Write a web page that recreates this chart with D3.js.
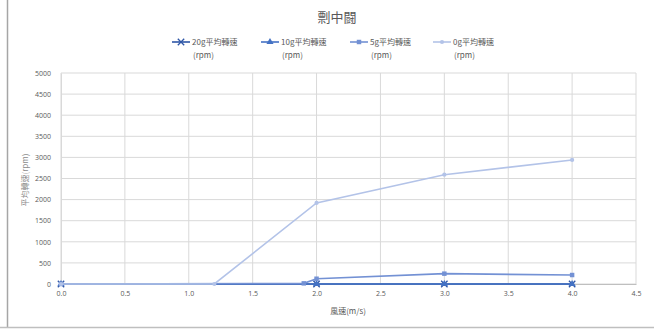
<!DOCTYPE html>
<html><head><meta charset="utf-8">
<script src="https://cdn.jsdelivr.net/npm/d3@7/dist/d3.min.js"></script>
<style>
body{margin:0;background:#fff;}
text{font-family:"Noto Sans CJK TC","Noto Sans",sans-serif;}
</style></head>
<body><svg id="c" width="654" height="331"></svg>
<script>
const title = "剽中闘";
const xTitle = "風速(m/s)";
const yTitle = "平均轉速(rpm)";
const seriesNames = ["20g平均轉速", "10g平均轉速", "5g平均轉速", "0g平均轉速"];
const seriesUnit = "(rpm)";
const x20 = [0, 2, 3, 4];
const y20 = [0, 0, 0, 0];
const x10 = [0, 2, 3, 4];
const y10 = [0, 0, 0, 0];
const x5 = [0, 1.9, 2, 3, 4];
const y5 = [0, 15, 125, 245, 213];
const x0 = [0, 1.2, 2, 3, 4];
const y0 = [0, 0, 1920, 2590, 2940];
const xTicks = [0, 0.5, 1, 1.5, 2, 2.5, 3, 3.5, 4, 4.5];
const yTicks = [0, 500, 1000, 1500, 2000, 2500, 3000, 3500, 4000, 4500, 5000];
const colors = ["#2E56A6", "#4472C4", "#7391D4", "#B3C3E8"];
const markers = ["x", "triangle", "square", "circle"];

const svg = d3.select("#c");
svg.append("line").attr("x1",7.5).attr("x2",7.5).attr("y1",0).attr("y2",327).attr("stroke","#a6a6a6").attr("stroke-width",1.5);
svg.append("line").attr("x1",0).attr("x2",654).attr("y1",327.5).attr("y2",327.5).attr("stroke","#bfbfbf").attr("stroke-width",1.5);

const xs = d3.scaleLinear().domain([0,4.5]).range([61,636]);
const ys = d3.scaleLinear().domain([0,5000]).range([284,73]);

const g = svg.append("g");
g.selectAll(".vg").data(xTicks).join("line").attr("x1",d=>xs(d)).attr("x2",d=>xs(d)).attr("y1",ys(5000)).attr("y2",ys(0)).attr("stroke","#d9d9d9").attr("stroke-width",1);
g.selectAll(".hg").data(yTicks).join("line").attr("x1",xs(0)).attr("x2",xs(4.5)).attr("y1",d=>ys(d)).attr("y2",d=>ys(d)).attr("stroke","#d9d9d9").attr("stroke-width",1);

const xAxis = d3.axisBottom(xs).tickValues(xTicks).tickFormat(d3.format(".1f")).tickSize(0).tickPadding(7);
const xg = svg.append("g").attr("transform",`translate(0,${ys(0)})`).call(xAxis);
xg.select(".domain").attr("stroke","#bfbfbf");
xg.selectAll("text").attr("fill","#595959").style("font-size","7px").style("font-family","'Open Sans','Noto Sans',sans-serif");
const yAxis = d3.axisLeft(ys).tickValues(yTicks).tickFormat(d3.format("d")).tickSize(0).tickPadding(10);
const yg = svg.append("g").attr("transform",`translate(${xs(0)},0)`).call(yAxis);
yg.select(".domain").attr("stroke","#d9d9d9");
yg.selectAll("text").attr("fill","#595959").style("font-size","7px").style("font-family","'Open Sans','Noto Sans',sans-serif");

svg.append("text").attr("x",337).attr("y",22).attr("text-anchor","middle").attr("fill","#595959").style("font-size","13px").text(title);
svg.append("text").attr("x",348).attr("y",314).attr("text-anchor","middle").attr("fill","#595959").style("font-size","8px").text(xTitle);
svg.append("text").attr("transform","translate(28,180) rotate(-90)").attr("text-anchor","middle").attr("fill","#8c8c8c").style("font-size","8px").text(yTitle);

const sym = {triangle:d3.symbolTriangle, square:d3.symbolSquare, circle:d3.symbolCircle};
function drawMarker(sel, type, color, x, y){
  if(type==="x"){
    const s=3.2;
    sel.append("path").attr("d",`M${x-s},${y-s}L${x+s},${y+s}M${x-s},${y+s}L${x+s},${y-s}`).attr("stroke",color).attr("stroke-width",1.3).attr("fill","none");
  } else {
    const size = type==="circle"?14:(type==="square"?20:22);
    sel.append("path").attr("d",d3.symbol().type(sym[type]).size(size)()).attr("transform",`translate(${x},${y})`).attr("fill",color);
  }
}

const data = [[x20,y20],[x10,y10],[x5,y5],[x0,y0]];
const line = d3.line().x(d=>xs(d[0])).y(d=>ys(d[1]));
for(let i=0;i<data.length;i++){
  const pts = data[i][0].map((v,j)=>[v,data[i][1][j]]);
  svg.append("path").datum(pts).attr("d",line).attr("fill","none").attr("stroke",colors[i]).attr("stroke-width",1.6);
  const mg = svg.append("g");
  pts.forEach(p=>drawMarker(mg,markers[i],colors[i],xs(p[0]),ys(p[1])));
}

const legX = [172, 261, 350, 433];
seriesNames.forEach((n,i)=>{
  const lg = svg.append("g");
  lg.append("line").attr("x1",legX[i]).attr("x2",legX[i]+18).attr("y1",42).attr("y2",42).attr("stroke",colors[i]).attr("stroke-width",1.6);
  drawMarker(lg,markers[i],colors[i],legX[i]+9,42);
  lg.append("text").attr("x",legX[i]+20).attr("y",45).attr("fill","#595959").style("font-size","8px").text(n);
  lg.append("text").attr("x",legX[i]+21).attr("y",58).attr("fill","#595959").style("font-size","8px").text(seriesUnit);
});
</script></body></html>
